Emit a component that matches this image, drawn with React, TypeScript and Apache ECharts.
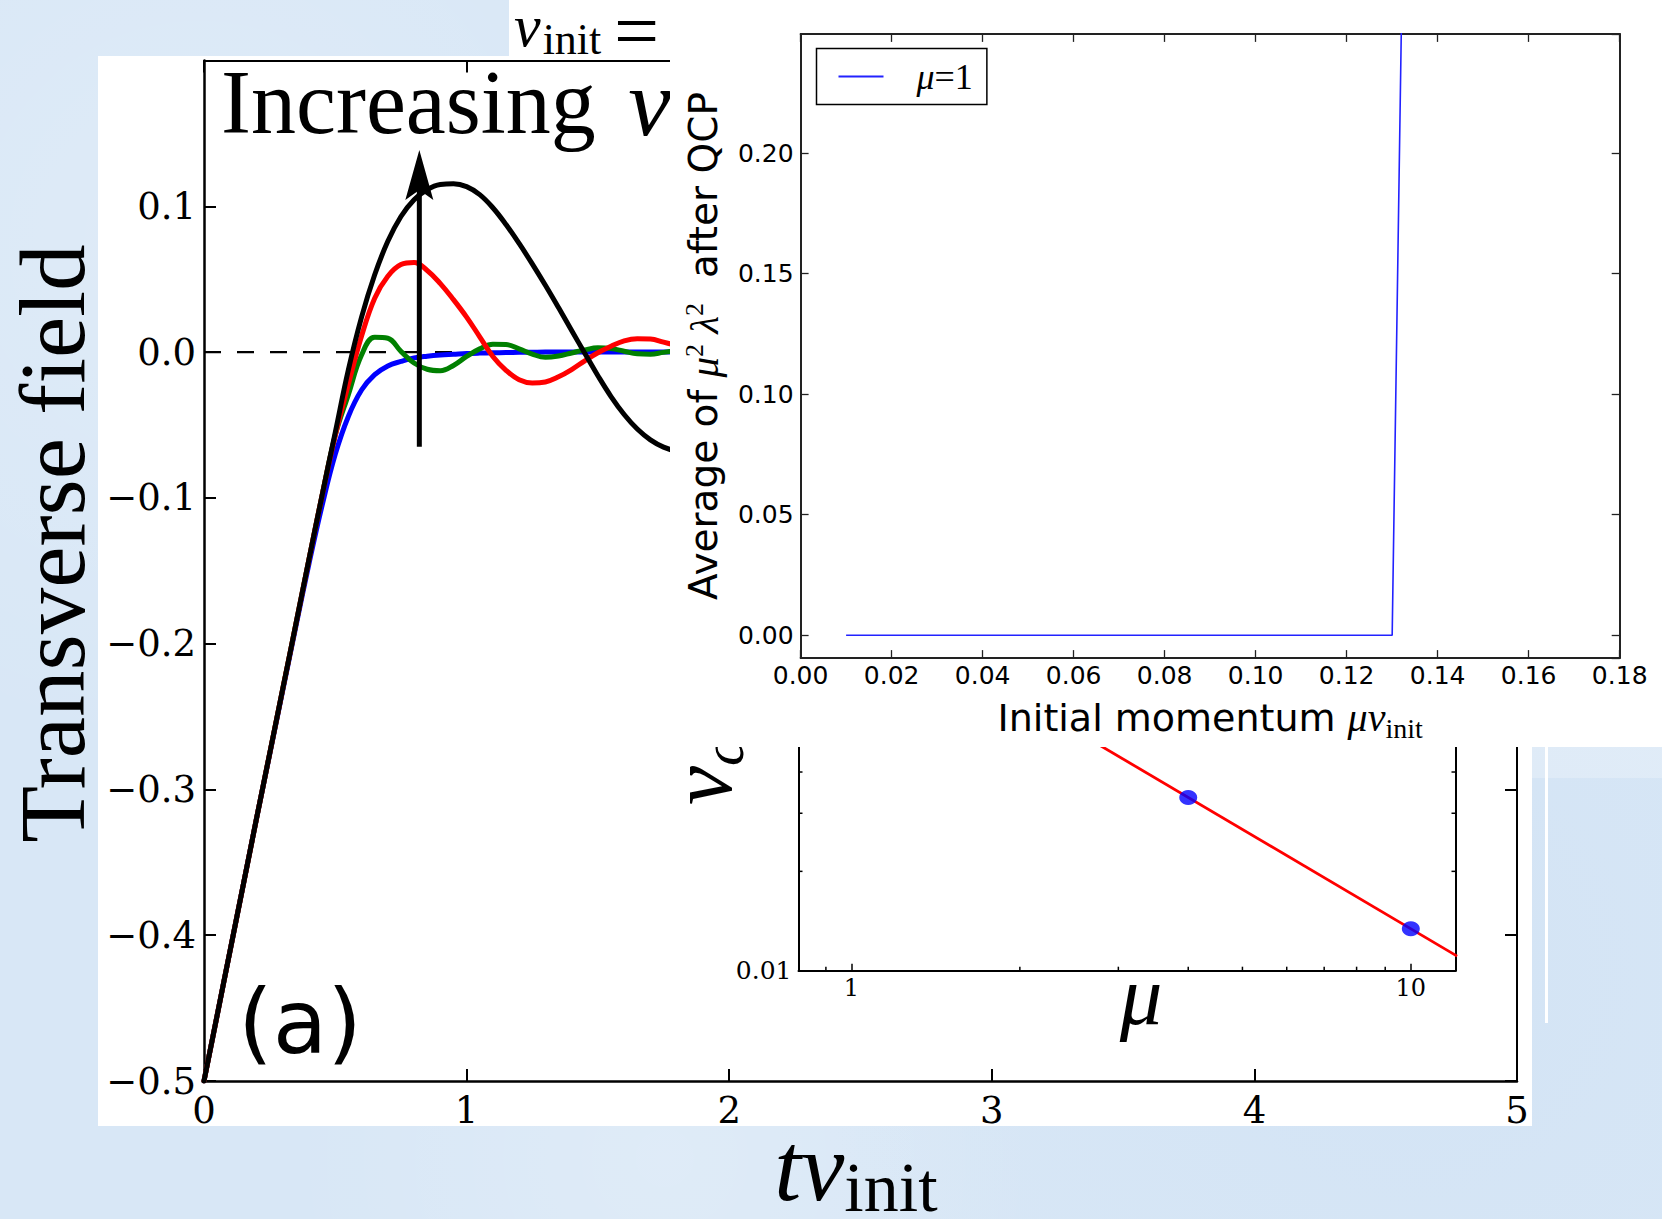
import React, { useEffect, useRef } from 'react';
import * as echarts from 'echarts';

// ---------- main panel (a): transverse field vs t*v_init ----------
const tGrid = [0, 0.05, 0.1, 0.15, 0.2, 0.25, 0.3, 0.35, 0.4, 0.45, 0.5, 0.55, 0.6, 0.65, 0.7, 0.75, 0.8, 0.85, 0.9, 0.95, 1.0, 1.05, 1.1, 1.15, 1.2, 1.25, 1.3, 1.35, 1.4, 1.45, 1.5, 1.55, 1.6, 1.65, 1.7, 1.75, 1.8];
const blueField = [-0.5, -0.455, -0.41, -0.365, -0.32, -0.276, -0.232, -0.188, -0.145, -0.105, -0.07, -0.044, -0.026, -0.0155, -0.0095, -0.0064, -0.004, -0.0028, -0.002, -0.0015, -0.001, -0.0007, -0.0005, -0.0003, -0.0002, -0.0001, 0, 0, 0, 0, 0, 0, 0, 0, 0, 0, 0];
const greenField = [-0.5, -0.455, -0.41, -0.365, -0.32, -0.2755, -0.231, -0.1865, -0.142, -0.098, -0.057, -0.029, -0.002, 0.0102, 0.0095, 0.0005, -0.0075, -0.0118, -0.0128, -0.0092, -0.003, 0.0022, 0.0054, 0.0052, 0.0022, -0.0014, -0.0036, -0.0027, -0.0006, 0.0015, 0.0029, 0.0024, 0.0006, -0.0012, -0.0015, -0.0002, 0.0009];
const redField = [-0.5, -0.455, -0.41, -0.365, -0.32, -0.2755, -0.231, -0.1865, -0.142, -0.098, -0.057, -0.022, 0.011, 0.037, 0.052, 0.060, 0.0615, 0.056, 0.047, 0.036, 0.024, 0.0105, -0.003, -0.0125, -0.019, -0.0212, -0.0205, -0.017, -0.012, -0.006, -0.0005, 0.004, 0.0077, 0.0092, 0.009, 0.0068, 0.0045];
const blackField = [-0.5, -0.455, -0.41, -0.365, -0.32, -0.2755, -0.231, -0.1865, -0.142, -0.098, -0.055, -0.012, 0.024, 0.053, 0.076, 0.093, 0.1045, 0.1115, 0.115, 0.1155, 0.1135, 0.108, 0.099, 0.0875, 0.0745, 0.0605, 0.0458, 0.0305, 0.0148, -0.0008, -0.0162, -0.0305, -0.0428, -0.0528, -0.0602, -0.0652, -0.068];
const zeroLineT = [0, 5];
const zeroLineV = [0, 0];
const arrowT = [0.82, 0.82];
const arrowV = [-0.065, 0.12];
const arrowTipT = [0.82];
const arrowTipV = [0.1386];

// ---------- top-right inset ----------
const momentum = [0.01, 0.02, 0.03, 0.04, 0.05, 0.06, 0.07, 0.08, 0.09, 0.10, 0.11, 0.12, 0.13, 0.14];
const avgMuLambda = [0, 0, 0, 0, 0, 0, 0, 0, 0, 0, 0, 0, 0, 1.25];

// ---------- lower log-log inset ----------
const muPoints = [4, 10];
const vcPoints = [0.0335, 0.0134];
const fitMu = [0.8, 12.1];
const fitVc = [0.1675, 0.01107];
const xMinorTicks = [0.9, 2, 3, 4, 5, 6, 7, 8, 9];
const yMinorTicks = [0.02, 0.03, 0.04, 0.05, 0.06, 0.07, 0.08, 0.09];
const lowerMuRange = [0.804, 12.02];
const lowerVRange = [0.01, 0.1];

const zip = (a: number[], b: number[]) => a.map((x, i) => [x, b[i]]);

const SERIF = 'Liberation Serif';
const BLACK = '#000';

function mainAxisLine(w = 2.5) {
  return { show: true, onZero: false, lineStyle: { color: BLACK, width: w } };
}

function buildMainOption(): any {
  const fmtY = (v: number) => {
    if (v > 0.15) return '';
    const s = Math.abs(v).toFixed(1);
    return v < -1e-9 ? '\u2212' + s : s;
  };
  return {
    animation: false,
    backgroundColor: 'transparent',
    grid: [
      { left: 204, right: 145, top: 60.5, bottom: 138 },
      { left: 798.5, right: 206.5, top: 640.7, bottom: 248.3 },
    ],
    xAxis: [
      {
        type: 'value', gridIndex: 0, min: 0, max: 5, interval: 1, position: 'bottom',
        axisLine: mainAxisLine(2.5),
        axisTick: { show: true, inside: true, length: 12, lineStyle: { color: BLACK, width: 2 } },
        axisLabel: { show: true, margin: 11, color: BLACK, fontFamily: 'DejaVu Serif', fontSize: 37 },
        splitLine: { show: false },
      },
      {
        type: 'value', gridIndex: 0, min: 0, max: 5, interval: 1, position: 'top',
        axisLine: mainAxisLine(2),
        axisTick: { show: true, inside: true, length: 12, lineStyle: { color: BLACK, width: 2 } },
        axisLabel: { show: false },
        splitLine: { show: false },
      },
      {
        type: 'log', logBase: 10, gridIndex: 1, min: lowerMuRange[0], max: lowerMuRange[1], position: 'bottom',
        axisLine: mainAxisLine(2),
        axisTick: { show: true, inside: true, length: 7, lineStyle: { color: BLACK, width: 1.5 } },
        axisLabel: {
          show: true, margin: 5, color: BLACK, fontFamily: 'DejaVu Serif', fontSize: 24,
          showMinLabel: false, showMaxLabel: false,
          formatter: (v: number) => String(Math.round(v * 1000) / 1000),
        },
        splitLine: { show: false },
      },
    ],
    yAxis: [
      {
        type: 'value', gridIndex: 0, min: -0.5, max: 0.2, interval: 0.1, position: 'left',
        axisLine: mainAxisLine(2.5),
        axisTick: { show: true, inside: true, length: 12, lineStyle: { color: BLACK, width: 2 } },
        axisLabel: { show: true, margin: 8, color: BLACK, fontFamily: 'DejaVu Serif', fontSize: 37, formatter: fmtY },
        splitLine: { show: false },
      },
      {
        type: 'value', gridIndex: 0, min: -0.5, max: 0.2, interval: 0.1, position: 'right',
        axisLine: mainAxisLine(2),
        axisTick: { show: true, inside: true, length: 12, lineStyle: { color: BLACK, width: 2 } },
        axisLabel: { show: false },
        splitLine: { show: false },
      },
      {
        type: 'log', logBase: 10, gridIndex: 1, min: lowerVRange[0], max: lowerVRange[1], position: 'left',
        axisLine: mainAxisLine(2),
        axisTick: { show: true, inside: true, length: 7, lineStyle: { color: BLACK, width: 1.5 } },
        axisLabel: {
          show: true, margin: 7, color: BLACK, fontFamily: 'DejaVu Serif', fontSize: 25,
          showMaxLabel: false,
          formatter: (v: number) => v.toFixed(2),
        },
        splitLine: { show: false },
      },
      {
        type: 'log', logBase: 10, gridIndex: 1, min: lowerVRange[0], max: lowerVRange[1], position: 'right',
        axisLine: mainAxisLine(2),
        axisTick: { show: true, inside: true, length: 7, lineStyle: { color: BLACK, width: 1.5 } },
        axisLabel: { show: false },
        splitLine: { show: false },
      },
    ],
    series: [
      {
        type: 'line', name: 'zero', xAxisIndex: 0, yAxisIndex: 0, data: zip(zeroLineT, zeroLineV),
        symbol: 'none', silent: true, z: 1,
        lineStyle: { color: BLACK, width: 2.2, type: [17, 16] },
      },
      ...[
        { name: 'blue', data: blueField, color: '#0000ff', z: 2 },
        { name: 'green', data: greenField, color: '#008000', z: 3 },
        { name: 'red', data: redField, color: '#ff0000', z: 4 },
        { name: 'black', data: blackField, color: '#000000', z: 5 },
      ].map((s) => ({
        type: 'line', name: s.name, xAxisIndex: 0, yAxisIndex: 0,
        data: zip(tGrid, s.data), symbol: 'none', smooth: 0.4, z: s.z,
        color: s.color, lineStyle: { color: s.color, width: 5, cap: 'round', join: 'round' },
      })),
      {
        type: 'line', name: 'arrow', xAxisIndex: 0, yAxisIndex: 0, data: zip(arrowT, arrowV),
        symbol: 'none', z: 6, color: BLACK, lineStyle: { color: BLACK, width: 5 },
      },
      {
        type: 'custom', name: 'arrowHead', xAxisIndex: 0, yAxisIndex: 0, z: 6, silent: true,
        data: zip(arrowTipT, arrowTipV),
        renderItem: (_p: any, api: any) => {
          const p = api.coord([api.value(0), api.value(1)]);
          return {
            type: 'polygon',
            shape: { points: [[p[0], p[1]], [p[0] + 14, p[1] + 50], [p[0], p[1] + 40], [p[0] - 14, p[1] + 50]] },
            style: { fill: BLACK },
          };
        },
      },
      {
        type: 'line', name: 'fit', xAxisIndex: 2, yAxisIndex: 2, data: zip(fitMu, fitVc),
        symbol: 'none', clip: true, z: 3, color: '#ff0000', lineStyle: { color: '#ff0000', width: 2.8 },
      },
      {
        type: 'scatter', name: 'vc', xAxisIndex: 2, yAxisIndex: 2, data: zip(muPoints, vcPoints),
        symbol: 'circle', symbolSize: [18, 15], z: 4, itemStyle: { color: '#0000ff' },
      },
      {
        type: 'custom', name: 'xMinor', xAxisIndex: 2, yAxisIndex: 2, silent: true, z: 3,
        data: xMinorTicks.map((v) => [v, lowerVRange[0]]),
        renderItem: (_p: any, api: any) => {
          const p = api.coord([api.value(0), api.value(1)]);
          return { type: 'line', shape: { x1: p[0], y1: p[1], x2: p[0], y2: p[1] - 4 }, style: { stroke: BLACK, lineWidth: 1.5 } };
        },
      },
      {
        type: 'custom', name: 'yMinor', xAxisIndex: 2, yAxisIndex: 2, silent: true, z: 3,
        data: yMinorTicks.map((v) => [lowerMuRange[0], v]),
        renderItem: (_p: any, api: any) => {
          const l = api.coord([lowerMuRange[0], api.value(1)]);
          const r = api.coord([lowerMuRange[1], api.value(1)]);
          return {
            type: 'group',
            children: [
              { type: 'line', shape: { x1: l[0], y1: l[1], x2: l[0] + 4, y2: l[1] }, style: { stroke: BLACK, lineWidth: 1.5 } },
              { type: 'line', shape: { x1: r[0], y1: r[1], x2: r[0] - 4, y2: r[1] }, style: { stroke: BLACK, lineWidth: 1.5 } },
            ],
          };
        },
      },
    ],
    graphic: [
      {
        type: 'text', x: 221, y: 102.6, z: 10,
        style: {
          text: '{a|Increasing }{b|v}',
          align: 'left', textAlign: 'left', verticalAlign: 'middle', textVerticalAlign: 'middle',
          rich: {
            a: { fontFamily: SERIF, fontSize: 90, lineHeight: 84, fill: BLACK, color: BLACK },
            b: { fontFamily: SERIF, fontStyle: 'italic', fontSize: 96, lineHeight: 84, padding: [0, 0, 0, 10], fill: BLACK, color: BLACK },
          },
        },
      },
      {
        type: 'text', x: 238, y: 1022, z: 10,
        style: { text: '(a)', fontFamily: 'DejaVu Sans', fontSize: 89, fill: BLACK, align: 'left', textAlign: 'left', verticalAlign: 'middle', textVerticalAlign: 'middle' },
      },
      {
        type: 'text', x: 52, y: 543.5, rotation: Math.PI / 2, z: 10,
        style: { text: 'Transverse field', fontFamily: SERIF, fontSize: 93, lineHeight: 90, fill: BLACK, align: 'center', textAlign: 'center', verticalAlign: 'middle', textVerticalAlign: 'middle' },
      },
      {
        type: 'text', x: 856, y: 1167, z: 10,
        style: {
          text: '{i|tv}{s|init}',
          align: 'center', textAlign: 'center', verticalAlign: 'middle', textVerticalAlign: 'middle',
          rich: {
            i: { fontFamily: SERIF, fontStyle: 'italic', fontSize: 97, lineHeight: 90, fill: BLACK, color: BLACK },
            s: { fontFamily: SERIF, fontSize: 70, lineHeight: 50, padding: [40, 0, 0, 0], fill: BLACK, color: BLACK },
          },
        },
      },
      {
        type: 'text', x: 514, y: 26, z: 10,
        style: {
          text: '{v|v}{s|init}',
          align: 'left', textAlign: 'left', verticalAlign: 'middle', textVerticalAlign: 'middle',
          rich: {
            v: { fontFamily: SERIF, fontStyle: 'italic', fontSize: 60, lineHeight: 48, fill: BLACK, color: BLACK },
            s: { fontFamily: SERIF, fontSize: 44, lineHeight: 30, padding: [26, 0, 0, 2], fill: BLACK, color: BLACK },
          },
        },
      },
      {
        type: 'text', x: 614, y: 31, z: 10,
        style: { text: '=', fontFamily: SERIF, fontSize: 80, lineHeight: 50, fill: BLACK, align: 'left', textAlign: 'left', verticalAlign: 'middle', textVerticalAlign: 'middle' },
      },
      {
        type: 'text', x: 1141, y: 995, z: 10,
        style: { text: 'μ', fontFamily: SERIF, fontStyle: 'italic', fontSize: 85, fill: BLACK, align: 'center', textAlign: 'center', verticalAlign: 'middle', textVerticalAlign: 'middle' },
      },
      {
        type: 'text', x: 701, y: 805, rotation: Math.PI / 2, z: 10,
        style: {
          text: '{v|v}{c|c}',
          align: 'left', textAlign: 'left', verticalAlign: 'middle', textVerticalAlign: 'middle',
          rich: {
            v: { fontFamily: SERIF, fontStyle: 'italic', fontSize: 88, lineHeight: 100, fill: BLACK, color: BLACK },
            c: { fontFamily: SERIF, fontStyle: 'italic', fontSize: 60, lineHeight: 66, padding: [43, 0, 0, 0], fill: BLACK, color: BLACK },
          },
        },
      },
      {
        type: 'rect', z: 1, shape: { x: 1532, y: 747, width: 130, height: 31 },
        style: { fill: 'rgba(255,255,255,0.25)' },
      },
      {
        type: 'line', z: 1, shape: { x1: 1546.5, y1: 747, x2: 1546.5, y2: 1023 },
        style: { stroke: '#ffffff', lineWidth: 3 },
      },
    ],
  };
}

function buildInsetOption(): any {
  const axisLine = { show: true, onZero: false, lineStyle: { color: '#222', width: 2 } };
  const tick = { show: true, inside: true, length: 8, lineStyle: { color: '#222', width: 1.3 } };
  return {
    animation: false,
    backgroundColor: '#ffffff',
    grid: { left: 130.6, right: 42.3, top: 33.9, bottom: 80 },
    legend: {
      left: 146.5, top: 48.5, orient: 'vertical',
      data: ['μ=1'],
      icon: 'rect',
      itemWidth: 45, itemHeight: 2,
      padding: [10, 14, 10, 22],
      borderColor: BLACK, borderWidth: 1.5, borderRadius: 0,
      backgroundColor: '#fff',
      formatter: () => '{i|μ}{n|=1}',
      textStyle: {
        rich: {
          i: { fontFamily: SERIF, fontStyle: 'italic', fontSize: 36, lineHeight: 40, padding: [0, 0, 0, 28], color: BLACK },
          n: { fontFamily: SERIF, fontSize: 36, lineHeight: 40, color: BLACK },
        },
      },
    },
    xAxis: [
      {
        type: 'value', min: 0, max: 0.18, interval: 0.02, position: 'bottom',
        axisLine, axisTick: tick,
        axisLabel: { show: true, margin: 5, color: BLACK, fontFamily: 'DejaVu Sans', fontSize: 25, formatter: (v: number) => v.toFixed(2) },
        splitLine: { show: false },
        name: '{t|Initial momentum }{m|μv}{s|init}',
        nameLocation: 'middle', nameGap: 26,
        nameTextStyle: {
          rich: {
            t: { fontFamily: 'DejaVu Sans', fontSize: 38, lineHeight: 44, color: BLACK },
            m: { fontFamily: SERIF, fontStyle: 'italic', fontSize: 40, lineHeight: 44, color: BLACK },
            s: { fontFamily: SERIF, fontSize: 28, lineHeight: 30, padding: [21, 0, 0, 0], color: BLACK },
          },
        },
      },
      {
        type: 'value', min: 0, max: 0.18, interval: 0.02, position: 'top',
        axisLine, axisTick: tick, axisLabel: { show: false }, splitLine: { show: false },
      },
    ],
    yAxis: [
      {
        type: 'value', min: -0.0095, max: 0.2495, splitNumber: 5, position: 'left',
        axisLine, axisTick: tick,
        axisLabel: {
          show: true, margin: 7, color: BLACK, fontFamily: 'DejaVu Sans', fontSize: 25,
          showMinLabel: false, showMaxLabel: false,
          formatter: (v: number) => Math.abs(v).toFixed(2),
        },
        splitLine: { show: false },
        name: '{t|Average of }{m|μ}{p|2}{m| λ}{p|2}{t|  after QCP}',
        nameLocation: 'middle', nameRotate: 90, nameGap: 76,
        nameTextStyle: {
          rich: {
            t: { fontFamily: 'DejaVu Sans', fontSize: 39, lineHeight: 42, color: BLACK },
            m: { fontFamily: SERIF, fontStyle: 'italic', fontSize: 41, lineHeight: 42, color: BLACK },
            p: { fontFamily: SERIF, fontSize: 26, lineHeight: 24, padding: [0, 0, 18, 0], color: BLACK },
          },
        },
      },
      {
        type: 'value', min: -0.0095, max: 0.2495, splitNumber: 5, position: 'right',
        axisLine, axisTick: tick, axisLabel: { show: false }, splitLine: { show: false },
      },
    ],
    series: [
      {
        type: 'line', name: 'μ=1', data: zip(momentum, avgMuLambda), symbol: 'none', showSymbol: false, clip: true,
        color: '#2222ff', lineStyle: { color: '#2222ff', width: 1.6 },
      },
    ],
  };
}

export default function App() {
  const mainRef = useRef<HTMLDivElement>(null);
  const insetRef = useRef<HTMLDivElement>(null);

  useEffect(() => {
    const a = echarts.init(mainRef.current as HTMLDivElement, null, { renderer: 'svg' });
    a.setOption(buildMainOption());
    const b = echarts.init(insetRef.current as HTMLDivElement, null, { renderer: 'svg' });
    b.setOption(buildInsetOption());
    return () => {
      a.dispose();
      b.dispose();
    };
  }, []);

  return (
    <div
      style={{
        position: 'absolute', left: 0, top: 0, width: 1662, height: 1219, overflow: 'hidden',
        background:
          'radial-gradient(circle at 12% 20%, rgba(255,255,255,0.18), rgba(255,255,255,0) 30%),' +
          'radial-gradient(circle at 85% 80%, rgba(200,220,242,0.3), rgba(200,220,242,0) 35%),' +
          'radial-gradient(circle at 40% 95%, rgba(255,255,255,0.18), rgba(255,255,255,0) 25%),' +
          '#d8e7f6',
      }}
    >
      <div style={{ position: 'absolute', left: 98, top: 56, width: 1434, height: 1070, background: '#ffffff' }} />
      <div style={{ position: 'absolute', left: 509, top: 0, width: 161, height: 56, background: '#ffffff' }} />
      <div ref={mainRef} style={{ position: 'absolute', left: 0, top: 0, width: 1662, height: 1219 }} />
      <div ref={insetRef} style={{ position: 'absolute', left: 670, top: 0, width: 992, height: 747 }} />
    </div>
  );
}
